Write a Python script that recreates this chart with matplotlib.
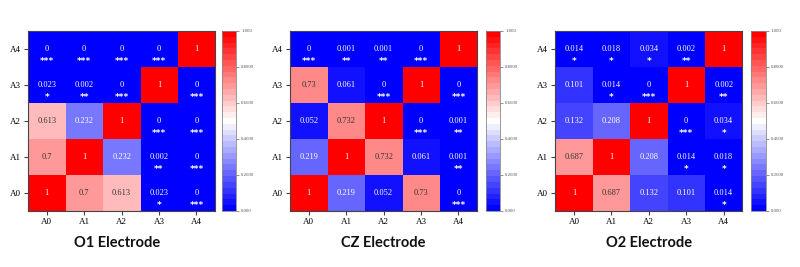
import matplotlib
matplotlib.use("Agg")
import matplotlib.pyplot as plt
import numpy as np

# p-value matrices, rows A0..A4 (bottom to top), cols A0..A4
labels = ["A0", "A1", "A2", "A3", "A4"]
titles = ["O1 Electrode", "CZ Electrode", "O2 Electrode"]

o1 = [[1, 0.7, 0.613, 0.023, 0],
      [0.7, 1, 0.232, 0.002, 0],
      [0.613, 0.232, 1, 0, 0],
      [0.023, 0.002, 0, 1, 0],
      [0, 0, 0, 0, 1]]

cz = [[1, 0.219, 0.052, 0.73, 0],
      [0.219, 1, 0.732, 0.061, 0.001],
      [0.052, 0.732, 1, 0, 0.001],
      [0.73, 0.061, 0, 1, 0],
      [0, 0.001, 0.001, 0, 1]]

o2 = [[1, 0.687, 0.132, 0.101, 0.014],
      [0.687, 1, 0.208, 0.014, 0.018],
      [0.132, 0.208, 1, 0, 0.034],
      [0.101, 0.014, 0, 1, 0.002],
      [0.014, 0.018, 0.034, 0.002, 1]]

cbar_ticks = [0, 0.2, 0.4, 0.6, 0.8, 1.0]
cbar_labels = ["0.000", "0.2000", "0.4000", "0.6000", "0.8000", "1.000"]

serif = "Liberation Serif"
cmap = plt.get_cmap("bwr", 31)


def stars(p):
    if p < 0.001:
        return "***"
    if p < 0.01:
        return "**"
    if p < 0.05:
        return "*"
    return ""


def fmt(v):
    return "1" if v == 1 else ("0" if v == 0 else ("%g" % v))


fig = plt.figure(figsize=(8, 2.67), dpi=100)

lefts = [0.035, 0.3625, 0.694]
cb_lefts = [0.2775, 0.6075, 0.939]
bottom, height = 0.21, 0.674

for k, mat in enumerate([o1, cz, o2]):
    data = np.array(mat)
    ax = fig.add_axes([lefts[k], bottom, 0.234, height])
    im = ax.imshow(data, cmap=cmap, vmin=0, vmax=1, origin="lower", aspect="auto")
    for i in range(5):
        for j in range(5):
            v = data[i, j]
            col = "#333333" if 0.55 < v < 0.95 else "white"
            ax.text(j, i, fmt(v), ha="center", va="center", fontsize=6,
                    family=serif, color=col)
            s = stars(v)
            if s:
                ax.text(j, i - 0.34, s, ha="center", va="center", fontsize=6.5,
                        color="white", fontweight="bold")
    ax.set_xticks(range(5))
    ax.set_yticks(range(5))
    ax.set_xticklabels(labels, family=serif, fontsize=6.5)
    ax.set_yticklabels(labels, family=serif, fontsize=6.5)
    ax.tick_params(length=3, width=0.8, color="#444444", pad=2)
    for sp in ax.spines.values():
        sp.set_color("#444444")
        sp.set_linewidth(0.8)

    cax = fig.add_axes([cb_lefts[k], bottom, 0.018, height])
    cb = fig.colorbar(im, cax=cax, ticks=cbar_ticks)
    cb.ax.set_yticklabels(cbar_labels, family=serif, fontsize=3.5, color="#555555")
    cb.ax.tick_params(length=2, width=0.5, color="#666666", pad=1.5)
    cb.outline.set_edgecolor("#888888")
    cb.outline.set_linewidth(0.6)

    fig.text(lefts[k] + 0.117 + (0.0 if k else -0.005), 0.09, titles[k],
             ha="center", va="center", fontsize=10.5, fontweight="bold",
             family="Lato", color="#111111")

fig.savefig("out.png", dpi=100)
